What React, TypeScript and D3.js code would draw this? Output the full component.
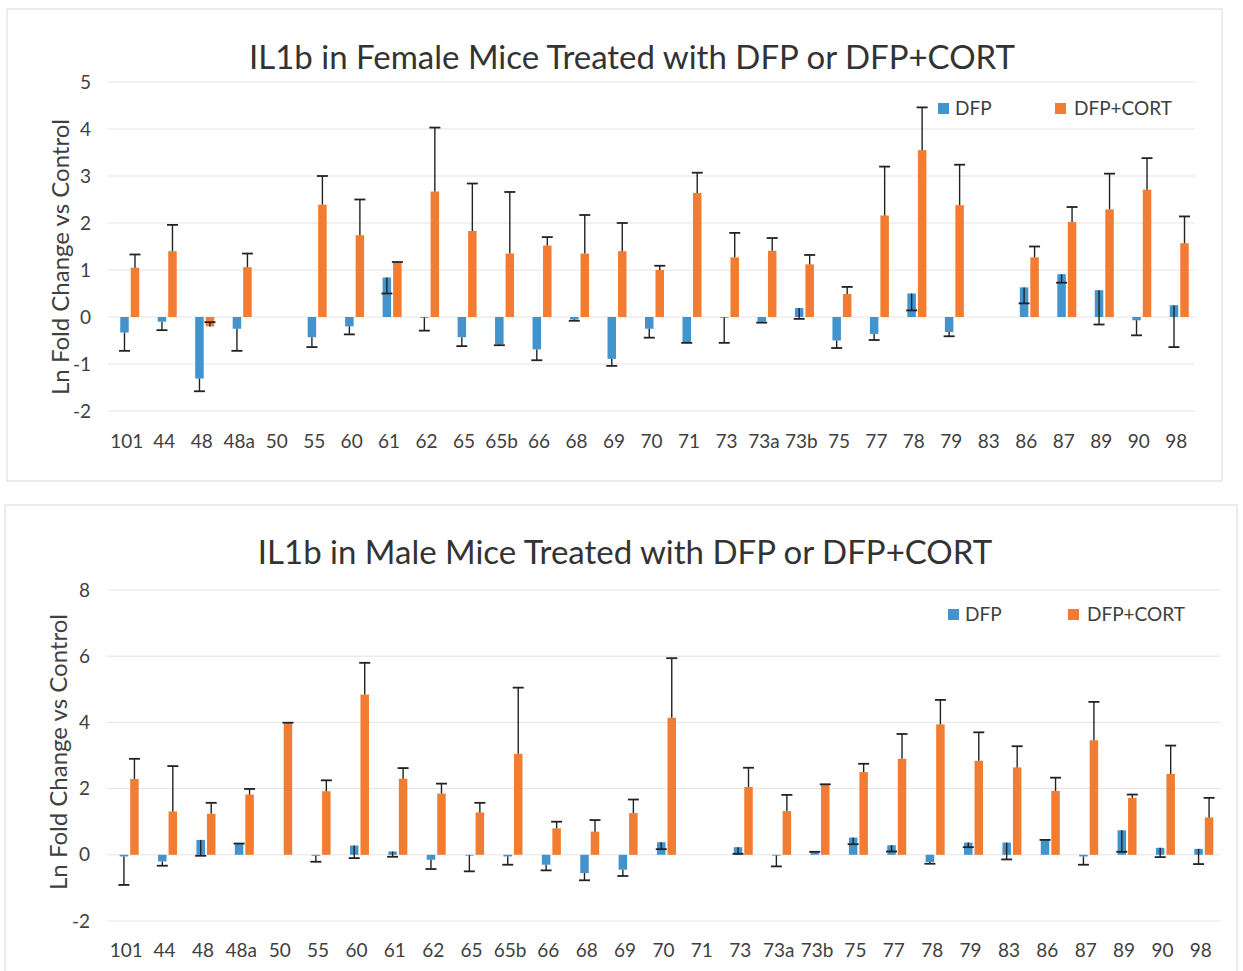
import React from 'react';
import * as d3 from 'd3';

const categories = ['101','44','48','48a','50','55','60','61','62','65','65b','66','68','69','70','71','73','73a','73b','75','77','78','79','83','86','87','89','90','98'];

// Female (top chart)
const femaleDFP = [-0.33,-0.10,-1.31,-0.25,null,-0.43,-0.20,0.84,-0.01,-0.43,-0.58,-0.69,-0.05,-0.89,-0.25,-0.54,-0.01,-0.10,0.19,-0.50,-0.36,0.50,-0.32,null,0.63,0.91,0.57,-0.07,0.25];
const femaleDFPErr = [0.39,0.18,0.27,0.47,null,0.21,0.17,0.34,0.28,0.19,0.02,0.23,0.03,0.15,0.19,0.01,0.54,0.02,0.23,0.16,0.13,0.36,0.09,null,0.34,0.18,0.73,0.32,0.89];
const femaleCORT = [1.05,1.40,-0.20,1.06,null,2.39,1.74,1.15,2.67,1.83,1.35,1.52,1.35,1.40,1.00,2.64,1.27,1.41,1.12,0.49,2.16,3.55,2.38,null,1.27,2.02,2.29,2.71,1.57];
const femaleCORTErr = [0.28,0.56,0.09,0.29,null,0.61,0.76,0.02,1.36,1.01,1.31,0.18,0.82,0.60,0.09,0.43,0.52,0.27,0.20,0.15,1.04,0.91,0.86,null,0.23,0.32,0.76,0.67,0.57];
const femaleTicks = [-2,-1,0,1,2,3,4,5];

// Male (bottom chart)
const maleDFP = [-0.05,-0.20,0.45,0.35,null,-0.03,0.28,0.10,-0.15,-0.01,-0.05,-0.30,-0.55,-0.45,0.38,null,0.23,-0.02,0.10,0.52,0.29,-0.22,0.37,0.37,0.47,-0.05,0.74,0.21,0.18];
const maleDFPErr = [0.86,0.13,0.48,0.01,null,0.18,0.38,0.16,0.28,0.49,0.25,0.17,0.22,0.19,0.21,null,0.20,0.33,0.01,0.20,0.19,0.05,0.14,0.51,0.02,0.25,0.65,0.28,0.46];
const maleCORT = [2.29,1.31,1.24,1.82,3.97,1.92,4.84,2.30,1.85,1.28,3.05,0.80,0.70,1.26,4.14,null,2.05,1.32,2.12,2.50,2.90,3.94,2.84,2.64,1.93,3.46,1.72,2.44,1.13];
const maleCORTErr = [0.61,1.37,0.33,0.17,0.02,0.33,0.96,0.32,0.30,0.29,2.00,0.20,0.35,0.41,1.80,null,0.58,0.49,0.01,0.25,0.75,0.74,0.86,0.64,0.40,1.16,0.10,0.86,0.59];
const maleTicks = [-2,0,2,4,6,8];

const seriesNames = ['DFP', 'DFP+CORT'];

const BLUE = '#4393cc';
const ORANGE = '#f27c32';
const FONT = 'Lato, "Open Sans", sans-serif';
const TEXT = '#404040';

type PanelProps = {
  title: string;
  dfp: (number | null)[];
  dfpErr: (number | null)[];
  cort: (number | null)[];
  cortErr: (number | null)[];
  ticks: number[];
  frame: { x: number; y: number; w: number; h: number };
  plot: { x0: number; x1: number; yTop: number; yBot: number };
  titleY: number;
  titleX: number;
  axisTitle: { x: number; y: number };
  xLabelY: number;
  legend: { x1: number; x2: number; y: number };
};

function Panel(p: PanelProps) {
  const x = d3.scaleBand<string>().domain(categories).range([p.plot.x0, p.plot.x1]).padding(0);
  const y = d3.scaleLinear().domain([d3.min(p.ticks)!, d3.max(p.ticks)!]).range([p.plot.yBot, p.plot.yTop]);
  const bw = 8.5;
  const gap = 2;
  const off = 3;
  const cap = 11;
  const bars: React.ReactNode[] = [];
  const errs: React.ReactNode[] = [];
  categories.forEach((c, i) => {
    const cx = x(c)! + x.bandwidth() / 2 + off;
    const series = [
      { v: p.dfp[i], e: p.dfpErr[i], color: BLUE, left: cx - gap / 2 - bw, dir: -1 },
      { v: p.cort[i], e: p.cortErr[i], color: ORANGE, left: cx + gap / 2, dir: 1 },
    ];
    series.forEach((s, k) => {
      if (s.v == null) return;
      const y0 = y(Math.max(s.v, 0));
      const y1 = y(Math.min(s.v, 0));
      bars.push(<rect key={`b${i}-${k}`} x={s.left} y={y0} width={bw} height={Math.max(0.8, y1 - y0)} fill={s.color} />);
      if (s.e != null) {
        const mid = s.left + bw / 2;
        const yv = y(s.v);
        const ye = y(s.v + s.dir * s.e);
        errs.push(
          <g key={`e${i}-${k}`} stroke="#222" strokeWidth={1.4}>
            <line x1={mid} x2={mid} y1={yv} y2={ye} />
            <line x1={mid - cap / 2} x2={mid + cap / 2} y1={ye} y2={ye} strokeWidth={1.8} />
          </g>
        );
      }
    });
  });
  return (
    <g>
      <rect x={p.frame.x} y={p.frame.y} width={p.frame.w} height={p.frame.h} fill="#fff" stroke="#d9d9d9" strokeWidth={1} />
      <text x={p.titleX} y={p.titleY} textAnchor="middle" fontFamily={FONT} fontSize={33} fill="#333">{p.title}</text>
      {p.ticks.map((t) => (
        <g key={`t${t}`}>
          <line x1={p.plot.x0} x2={p.plot.x1} y1={y(t)} y2={y(t)} stroke="#e3e3e3" strokeWidth={1} />
          <text x={p.plot.x0 - 17} y={y(t)} dy="0.35em" textAnchor="end" fontFamily={FONT} fontSize={19} fill={TEXT}>{t}</text>
        </g>
      ))}
      {categories.map((c) => (
        <text key={`x${c}`} x={x(c)! + x.bandwidth() / 2} y={p.xLabelY} textAnchor="middle" fontFamily={FONT} fontSize={19} fill={TEXT}>{c}</text>
      ))}
      <text transform={`translate(${p.axisTitle.x},${p.axisTitle.y}) rotate(-90)`} textAnchor="middle" fontFamily={FONT} fontSize={24} fill={TEXT}>Ln Fold Change vs Control</text>
      {bars}
      {errs}
      <g fontFamily={FONT} fontSize={19} fill={TEXT}>
        <rect x={p.legend.x1} y={p.legend.y - 12} width={11} height={11} fill={BLUE} />
        <text x={p.legend.x1 + 17} y={p.legend.y}>{seriesNames[0]}</text>
        <rect x={p.legend.x2} y={p.legend.y - 12} width={11} height={11} fill={ORANGE} />
        <text x={p.legend.x2 + 19} y={p.legend.y}>{seriesNames[1]}</text>
      </g>
    </g>
  );
}

export default function App() {
  return (
    <svg width={1243} height={971} style={{ position: 'absolute', left: 0, top: 0, display: 'block', background: '#fff' }}>
      <Panel
        title="IL1b in Female Mice Treated with DFP or DFP+CORT"
        dfp={femaleDFP} dfpErr={femaleDFPErr} cort={femaleCORT} cortErr={femaleCORTErr}
        ticks={femaleTicks}
        frame={{ x: 7, y: 9, w: 1215, h: 472 }}
        plot={{ x0: 108, x1: 1195, yTop: 82, yBot: 411 }}
        titleX={632} titleY={69}
        axisTitle={{ x: 69, y: 257 }}
        xLabelY={448}
        legend={{ x1: 938, x2: 1055, y: 115 }}
      />
      <Panel
        title="IL1b in Male Mice Treated with DFP or DFP+CORT"
        dfp={maleDFP} dfpErr={maleDFPErr} cort={maleCORT} cortErr={maleCORTErr}
        ticks={maleTicks}
        frame={{ x: 5, y: 505, w: 1232, h: 470 }}
        plot={{ x0: 107, x1: 1220, yTop: 590, yBot: 921 }}
        titleX={625} titleY={564}
        axisTitle={{ x: 67, y: 752 }}
        xLabelY={957}
        legend={{ x1: 948, x2: 1068, y: 621 }}
      />
    </svg>
  );
}
